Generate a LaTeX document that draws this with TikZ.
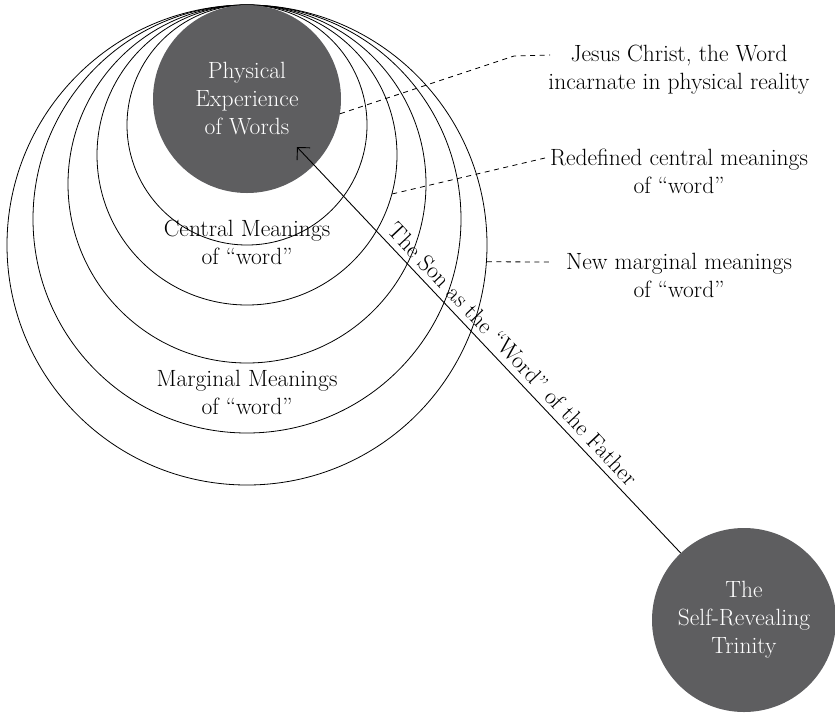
\documentclass[tikz,border=0pt]{standalone}
\usepackage{fontspec}
\usetikzlibrary{arrows.meta}
\definecolor{discgray}{RGB}{94,94,96}
\begin{document}
\begin{tikzpicture}[x=1pt,y=-1pt,
  txt/.style={font=\fontsize{23.5}{28}\selectfont},
  ring/.style={draw, circle, inner sep=0pt, line width=0.8pt},
  disc/.style={txt, circle, fill=discgray, text=white, inner sep=0pt, align=center},
  lbl/.style={txt, align=center, inner sep=0pt},
  leader/.style={line width=0.8pt, dash pattern=on 5pt off 4.5pt},
  sonline/.style={line width=0.9pt, {Straight Barb[length=9pt,width=18pt]}-}]
\useasboundingbox (0,0) rectangle (835,713);
% nested rings, all touching at the top
\node[ring, minimum size=480pt] (c6) at (247,245) {};
\node[ring, minimum size=428pt] (c5) at (247,219) {};
\node[ring, minimum size=358pt] (c4) at (247,184) {};
\node[ring, minimum size=300pt] (c3) at (247,155) {};
\node[ring, minimum size=240pt] (c2) at (247,125) {};
% discs
\node[disc, minimum size=188pt] (phys) at (247,99) {Physical\\Experience\\of Words};
\node[disc, minimum size=184pt] (trin) at (744,620) {The\\Self-Revealing\\Trinity};
% ring labels (base = baseline of last line)
\node[lbl, anchor=base] (central) at (247,264) {Central Meanings\\of “word”};
\node[lbl, anchor=base] (marginal) at (247,414) {Marginal Meanings\\of “word”};
% side labels
\node[lbl, anchor=base] (jesus) at (679,89) {Jesus Christ, the Word\\incarnate in physical reality};
\node[lbl, anchor=base] (redef) at (679,193) {Redefined central meanings\\of “word”};
\node[lbl, anchor=base] (newm) at (679,297) {New marginal meanings\\of “word”};
% leader ends
\coordinate (j1) at (550,55);
\coordinate (r1) at (545,158);
\coordinate (n1) at (550,262);
\draw[leader] (phys.-9) -- (514,56) -- (j1);
\draw[leader] (c3.-15) -- (r1);
\draw[leader] (c6.-4) -- (n1);
% arrow
\coordinate (tip) at (297,147);
\draw[sonline] (tip) -- (trin);
\node[txt, rotate=-46.6, inner sep=0pt] (son) at (513,354) {The Son as the “Word” of the Father};
\end{tikzpicture}
\end{document}
